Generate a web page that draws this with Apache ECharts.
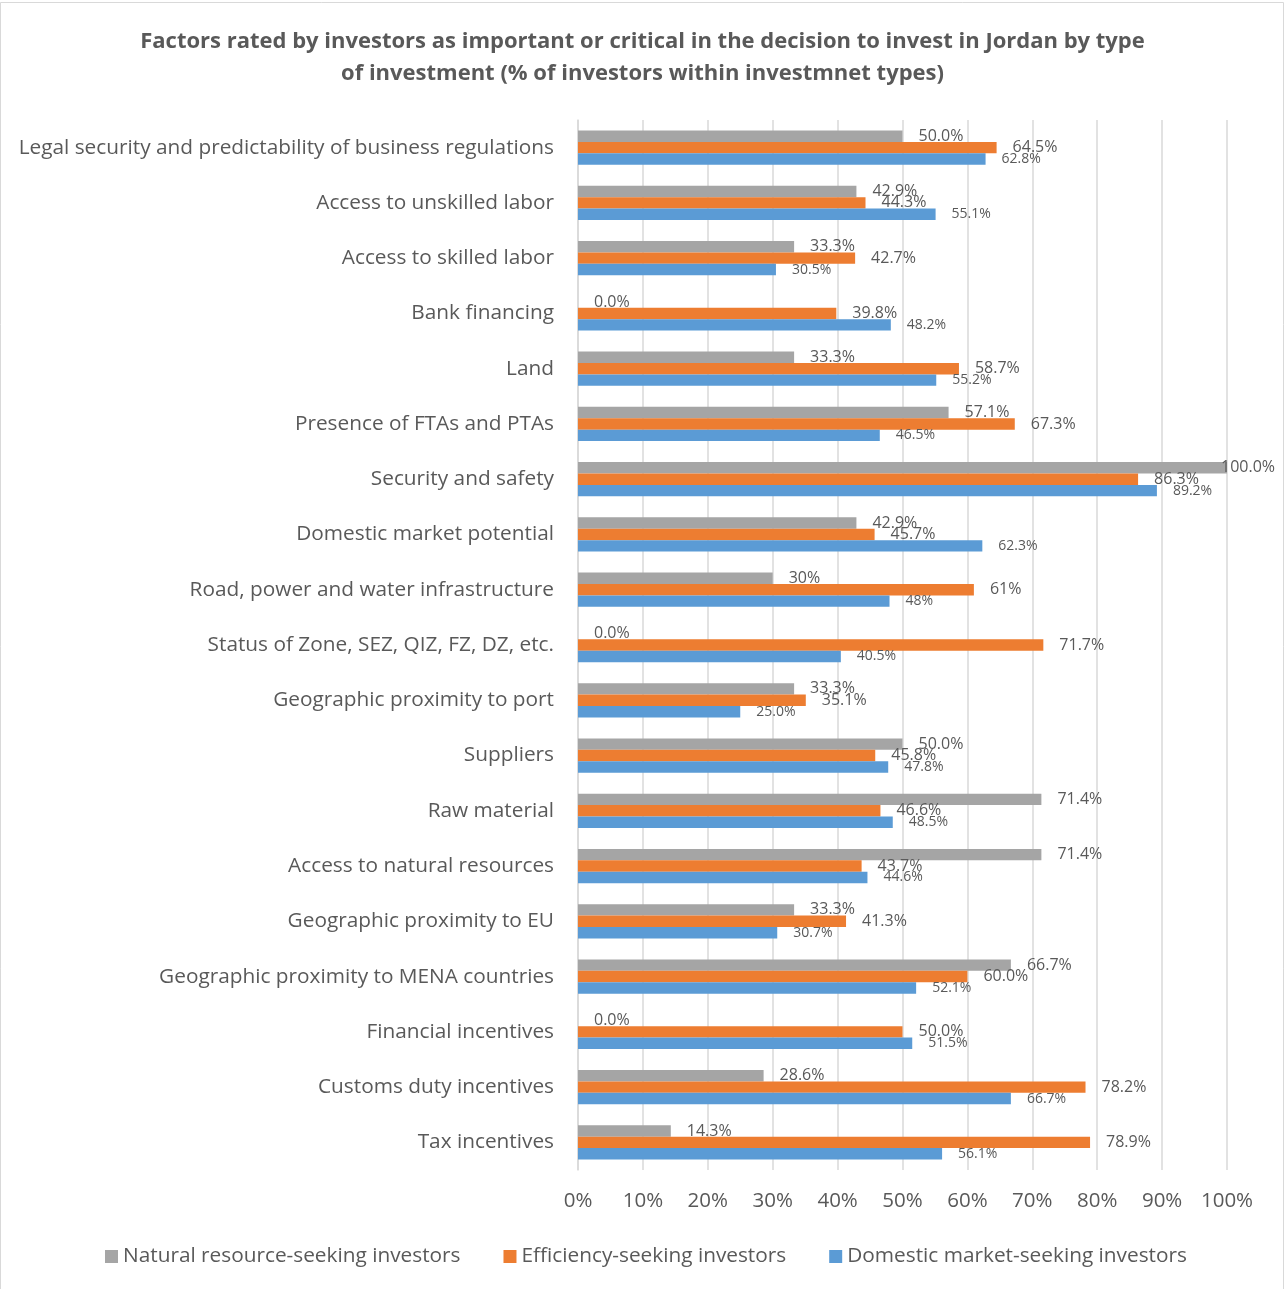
<!DOCTYPE html>
<html>
<head>
<meta charset="utf-8">
<title>Investment factors in Jordan</title>
<script src="https://cdn.jsdelivr.net/npm/echarts@6/dist/echarts.min.js"></script>
<style>
  html, body { margin: 0; padding: 0; background: #ffffff; }
  #chart { width: 1285px; height: 1289px; }
</style>
</head>
<body>
<div id="chart"></div>
<script>
// Factors, listed top to bottom
const categories = [
  'Legal security and predictability of business regulations',
  'Access to unskilled labor',
  'Access to skilled labor',
  'Bank financing',
  'Land',
  'Presence of FTAs and PTAs',
  'Security and safety',
  'Domestic market potential',
  'Road, power and water infrastructure',
  'Status of Zone, SEZ, QIZ, FZ, DZ, etc.',
  'Geographic proximity to port',
  'Suppliers',
  'Raw material',
  'Access to natural resources',
  'Geographic proximity to EU',
  'Geographic proximity to MENA countries',
  'Financial incentives',
  'Customs duty incentives',
  'Tax incentives'
];

// Share of investors (%) rating each factor important or critical
const naturalResourceSeeking = [50.0, 42.9, 33.3, 0.0, 33.3, 57.1, 100.0, 42.9, 30, 0.0, 33.3, 50.0, 71.4, 71.4, 33.3, 66.7, 0.0, 28.6, 14.3];
const efficiencySeeking      = [64.5, 44.3, 42.7, 39.8, 58.7, 67.3, 86.3, 45.7, 61, 71.7, 35.1, 45.8, 46.6, 43.7, 41.3, 60.0, 50.0, 78.2, 78.9];
const domesticMarketSeeking  = [62.8, 55.1, 30.5, 48.2, 55.2, 46.5, 89.2, 62.3, 48, 40.5, 25.0, 47.8, 48.5, 44.6, 30.7, 52.1, 51.5, 66.7, 56.1];

// Decimal places shown in the value labels of each factor
const labelDecimals = [1, 1, 1, 1, 1, 1, 1, 1, 0, 1, 1, 1, 1, 1, 1, 1, 1, 1, 1];

const seriesNames = [
  'Natural resource-seeking investors',
  'Efficiency-seeking investors',
  'Domestic market-seeking investors'
];
const seriesColors = ['#A5A5A5', '#ED7D31', '#5B9BD5'];

const FONT = '"Open Sans", sans-serif';
const TEXT = '#595959';
const WIDTH = 1285;

const chart = echarts.init(document.getElementById('chart'), null, { renderer: 'canvas' });

function pctLabel(p) {
  const d = labelDecimals[p.dataIndex];
  return p.value.toFixed(d) + '%';
}

function makeSeries(name, data, color, fontSize) {
  return {
    name: name,
    type: 'bar',
    data: data,
    barGap: '0%',
    barCategoryGap: '38%',
    itemStyle: { color: color },
    label: {
      show: true,
      position: 'right',
      distance: 16,
      offset: [0, 4],
      formatter: pctLabel,
      color: TEXT,
      fontFamily: FONT,
      fontSize: fontSize
    },
    // keep labels inside the chart frame
    labelLayout: function (params) {
      const r = params.labelRect;
      const over = r.x + r.width - (WIDTH - 10);
      return over > 0 ? { dx: -over } : {};
    }
  };
}

const option = {
  backgroundColor: '#ffffff',
  animation: false,
  title: {
    text: 'Factors rated by investors as important or critical in the decision to invest in Jordan by type\nof investment (% of investors within investmnet types)',
    left: 'center',
    top: 21,
    textStyle: {
      fontFamily: FONT,
      fontWeight: 'bold',
      fontSize: 22,
      lineHeight: 32,
      color: TEXT
    }
  },
  legend: {
    left: 100,
    top: 1241,
    itemWidth: 13,
    itemHeight: 13,
    itemGap: 43,
    icon: 'rect',
    data: seriesNames,
    textStyle: { fontFamily: FONT, fontSize: 20.8, color: TEXT }
  },
  grid: {
    left: 578,
    right: 58,
    top: 120,
    bottom: 119,
    containLabel: false
  },
  xAxis: {
    type: 'value',
    min: 0,
    max: 100,
    interval: 10,
    axisLine: { show: false },
    axisTick: { show: false },
    splitLine: { show: true, lineStyle: { color: '#D9D9D9', width: 1.5 } },
    axisLabel: {
      formatter: '{value}%',
      margin: 21,
      fontFamily: FONT,
      fontSize: 20.5,
      color: TEXT
    }
  },
  yAxis: {
    type: 'category',
    inverse: true,
    data: categories,
    axisLine: { show: true, lineStyle: { color: '#D9D9D9', width: 1.5 } },
    axisTick: { show: false },
    axisLabel: {
      margin: 24,
      fontFamily: FONT,
      fontSize: 20.8,
      color: TEXT
    }
  },
  graphic: [{
    type: 'rect',
    silent: true,
    shape: { x: 0.5, y: 2.5, width: 1283, height: 1300 },
    style: { fill: 'none', stroke: '#D9D9D9', lineWidth: 1 }
  }],
  series: [
    makeSeries(seriesNames[0], naturalResourceSeeking, seriesColors[0], 16),
    makeSeries(seriesNames[1], efficiencySeeking, seriesColors[1], 16),
    makeSeries(seriesNames[2], domesticMarketSeeking, seriesColors[2], 14)
  ]
};

chart.setOption(option);
</script>
</body>
</html>
